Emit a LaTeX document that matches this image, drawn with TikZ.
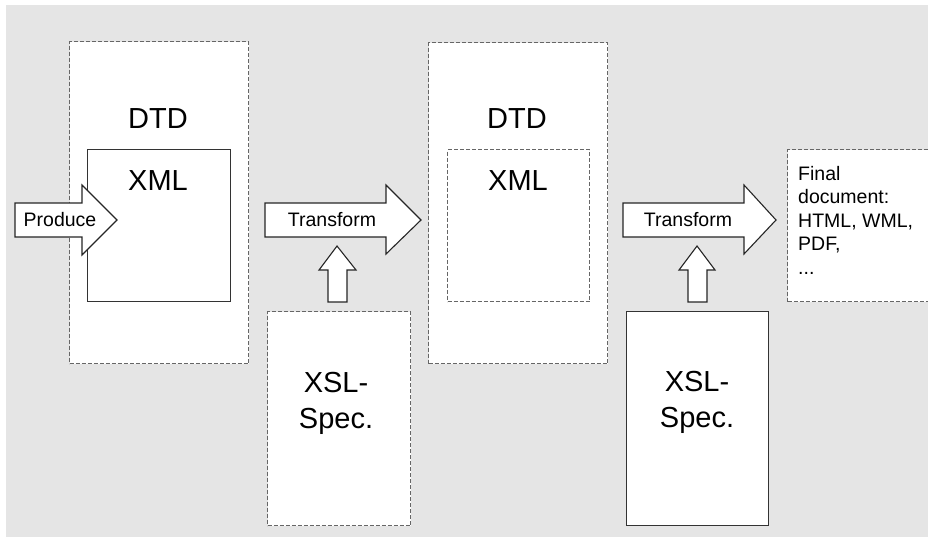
\documentclass[tikz,border=0pt]{standalone}
\usepackage{fontspec}
\setmainfont{Liberation Sans}
\tikzset{
    dashbox/.style={draw=black!60,line width=1.2pt,dash pattern=on 4pt off 2pt,fill=white,inner sep=0pt},
    solidbox/.style={draw=black!80,line width=1.1pt,fill=white,inner sep=0pt},
    blockarrow/.style={draw=black!85,line width=1.1pt,fill=white,line join=miter},
    bigtext/.style={font=\fontsize{29}{36.5}\selectfont,inner sep=0pt,align=center},
    smalltext/.style={font=\fontsize{19.5}{23.5}\selectfont,inner sep=0pt},
}
\begin{document}
\begin{tikzpicture}[x=1pt,y=-1pt]
\useasboundingbox (0,0) rectangle (928,537);
\fill[black!10] (6,5) rectangle (930,540);
% first stage
\node[dashbox,anchor=north west,minimum width=179pt,minimum height=322pt] (dtda) at (69,41) {};
\node[solidbox,anchor=north west,minimum width=143pt,minimum height=152pt] (xmla) at (87,149) {};
\node[bigtext,anchor=base] (dtdatext) at (158,129) {DTD};
\node[bigtext,anchor=base] (xmlatext) at (158,191) {XML};
\draw[blockarrow] (15,203) -- (82,203) -- (82,185) -- (117,220) -- (82,255) -- (82,237) -- (15,237) -- cycle;
\node[smalltext,anchor=base] (produce) at (60,227) {Produce};
% first transform
\draw[blockarrow] (265,203) -- (386,203) -- (386,185) -- (421,220) -- (386,254) -- (386,237) -- (265,237) -- cycle;
\node[smalltext,anchor=base] (transforma) at (332,227) {Transform};
\node[dashbox,anchor=north west,minimum width=143pt,minimum height=214pt] (xsla) at (267,311) {};
\node[bigtext,anchor=north] (xslatext) at (336,372) {XSL-\\Spec.};
\draw[blockarrow] (328,302) -- (328,270) -- (319,270) -- (337,246) -- (356,270) -- (347,270) -- (347,302) -- cycle;
% second stage
\node[dashbox,anchor=north west,minimum width=179pt,minimum height=321pt] (dtdb) at (428,42) {};
\node[dashbox,anchor=north west,minimum width=142pt,minimum height=152pt] (xmlb) at (447,149) {};
\node[bigtext,anchor=base] (dtdbtext) at (517,129) {DTD};
\node[bigtext,anchor=base] (xmlbtext) at (518,191) {XML};
% second transform
\draw[blockarrow] (623,203) -- (744,203) -- (744,185) -- (776,220) -- (744,254) -- (744,237) -- (623,237) -- cycle;
\node[smalltext,anchor=base] (transformb) at (688,227) {Transform};
\node[solidbox,anchor=north west,minimum width=142pt,minimum height=214pt] (xslb) at (626,311) {};
\node[bigtext,anchor=north] (xslbtext) at (697,371) {XSL-\\Spec.};
\draw[blockarrow] (688,302) -- (688,270) -- (679,270) -- (697,246) -- (715,270) -- (707,270) -- (707,302) -- cycle;
% result
\node[dashbox,anchor=north west,minimum width=150pt,minimum height=152pt] (final) at (787,149) {};
\node[smalltext,anchor=north west,align=left] (finaltext) at (798,166) {Final\\document:\\HTML, WML,\\PDF,\\...};
\end{tikzpicture}
\end{document}
